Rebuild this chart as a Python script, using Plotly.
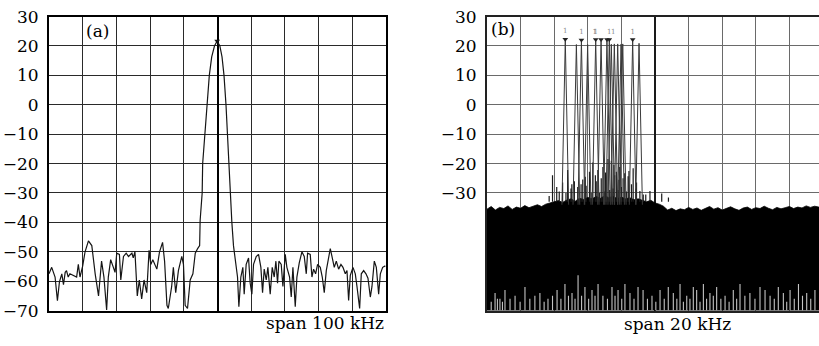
import plotly.graph_objects as go

# ---------------- Panel (a): span 100 kHz ----------------
freq_a = [-50.0, -49.2, -48.2, -47.5, -46.9, -46.2, -45.7, -45.2, -44.8, -44.3,
          -43.8, -42.8, -41.8, -41.3, -40.8, -40.0, -39.3, -38.3, -37.3, -36.3,
          -35.3, -34.9, -34.4, -33.7, -32.9, -32.4, -31.7, -30.9, -30.4, -29.9,
          -29.1, -28.7, -27.9, -27.1, -26.4, -25.4, -25.0, -24.5, -23.8, -23.2,
          -22.5, -21.8, -21.0, -20.3, -19.8, -19.2, -18.5, -18.0, -17.2, -16.3,
          -15.7, -15.0, -14.6, -13.6, -13.1, -12.4, -11.6, -10.6, -10.1, -9.6,
          -8.9, -8.1, -7.3, -6.6, -5.9, -5.3,
          -5.15, -4.55, -4.4, -3.8, -3.2, -2.43, -1.72, -0.9, -0.1, 0.7,
          1.34, 1.93, 2.52, 2.9, 3.37, 3.76, 4.26, 4.75, 5.54,
          5.94, 6.34, 6.93, 7.52, 7.92, 8.51, 9.21, 9.70, 10.20, 10.69,
          11.49, 12.18, 12.87, 13.37, 13.86, 14.46, 14.95, 15.64, 16.24, 16.83,
          17.33, 17.82, 18.22, 18.91, 19.41, 20.10, 20.59, 21.39, 21.88, 22.38,
          23.07, 23.56, 24.26, 25.05, 25.74, 26.34, 26.73, 27.52, 28.02, 28.51,
          29.11, 29.70, 30.50, 31.09, 31.68, 32.28, 32.97, 33.47, 34.06, 34.65,
          35.25, 35.94, 36.63, 37.23, 37.92, 38.42, 38.91, 39.41, 40.20, 40.89,
          41.39, 42.18, 42.67, 43.37, 44.06, 44.65, 45.35, 45.84, 46.53, 47.13,
          47.82, 48.32, 49.01, 49.80]
level_a = [-57.5, -55.3, -58.6, -66.6, -60.2, -57.5, -61.2, -57.0, -56.4, -58.6,
           -57.5, -58.0, -58.6, -54.3, -58.6, -54.8, -50.0, -46.3, -47.9, -57.5,
           -65.0, -59.6, -53.2, -58.6, -69.8, -58.6, -52.7, -55.3, -57.0, -50.5,
           -50.9, -59.6, -51.6, -50.5, -51.6, -50.5, -52.1, -50.0, -65.0, -59.6,
           -66.0, -59.6, -63.9, -49.5, -54.3, -52.7, -54.3, -55.9, -50.0, -46.8,
           -53.2, -68.2, -69.3, -61.8, -55.3, -63.9, -56.4, -51.6, -54.3, -68.2,
           -69.3, -59.6, -57.5, -50.5, -48.9, -47.9,
           -39.3, -30.0, -20.0, -10.0, 0.0, 10.0, 16.3, 20.0, 21.7, 20.0,
           16.3, 10.0, 0.0, -10.0, -20.0, -30.0, -40.0, -48.0, -54.3,
           -58.6, -68.7, -58.6, -55.3, -64.4, -54.3, -52.1, -60.7, -64.4, -54.3,
           -51.6, -50.9, -55.3, -63.9, -55.9, -59.6, -55.3, -64.4, -55.3, -58.6,
           -53.2, -60.7, -53.2, -54.3, -61.8, -50.9, -55.3, -58.6, -65.4, -55.3,
           -68.7, -58.6, -53.8, -50.0, -51.6, -57.5, -50.5, -50.9, -58.6, -55.9,
           -57.5, -54.3, -55.3, -58.6, -63.9, -56.4, -51.6, -48.9, -52.1, -55.3,
           -53.2, -55.9, -54.3, -55.3, -57.5, -56.4, -66.6, -58.0, -55.3, -57.5,
           -61.8, -69.3, -57.5, -56.4, -57.5, -59.0, -65.4, -61.8, -53.2, -55.3,
           -64.4, -57.5, -55.3, -54.8]
marker_a_freq = [-0.1]
marker_a_level = [21.7]

# ---------------- Panel (b): span 20 kHz ----------------
peak_freqs = [-5.34, -4.68, -4.38, -4.01, -3.53, -3.21, -2.86, -2.72, -2.60,
              -2.42, -2.22, -2.02, -1.92, -1.33, -0.95]
peak_levels = [21.9, 20.5, 21.6, 20.5, 21.8, 21.8, 21.8, 21.8, 20.6,
               20.7, 20.7, 20.6, 20.7, 21.8, 20.9]
peak_marked = [True, False, True, False, True, True, True, True, False,
               False, False, False, False, True, False]
peak_label = "1"
peak_halfwidth = 0.2
peak_floor = -34.0

# dense noise floor: upper envelope (0.25 kHz steps), bottom at -70 dB
noise_top_freq = [-10.0, -9.75, -9.5, -9.25, -9.0, -8.75, -8.5, -8.25, -8.0, -7.75,
                  -7.5, -7.25, -7.0, -6.75, -6.5, -6.25, -6.0, -5.75, -5.5, -5.25,
                  -5.0, -4.75, -4.5, -4.25, -4.0, -3.75, -3.5, -3.25, -3.0, -2.75,
                  -2.5, -2.25, -2.0, -1.75, -1.5, -1.25, -1.0, -0.75, -0.5, -0.25,
                  0.0, 0.25, 0.5, 0.75, 1.0, 1.25, 1.5, 1.75, 2.0, 2.25,
                  2.5, 2.75, 3.0, 3.25, 3.5, 3.75, 4.0, 4.25, 4.5, 4.75,
                  5.0, 5.25, 5.5, 5.75, 6.0, 6.25, 6.5, 6.75, 7.0, 7.25,
                  7.5, 7.75, 8.0, 8.25, 8.5, 8.75, 9.0, 9.25, 9.5, 9.75, 10.0]
noise_top_level = [-35.5, -34.6, -35.8, -34.9, -35.3, -34.4, -35.6, -34.8, -35.2, -34.3,
                   -35.0, -34.5, -34.0, -34.6, -33.8, -33.4, -33.0, -32.6, -33.2, -32.4,
                   -32.0, -32.8, -31.8, -32.2, -31.5, -32.0, -31.2, -31.8, -31.0, -31.6,
                   -31.2, -31.9, -31.4, -32.0, -31.6, -32.3, -32.0, -32.6, -33.0, -32.5,
                   -33.4, -33.8, -34.5, -35.8, -35.2, -36.0, -35.4, -35.7, -34.9, -35.6,
                   -35.1, -35.9, -35.3, -34.6, -35.5, -35.0, -35.8, -35.2, -34.7, -35.4,
                   -35.9, -35.1, -34.8, -35.6, -35.0, -35.3, -34.5, -35.2, -35.7, -34.9,
                   -35.4, -35.0, -34.6, -35.3, -34.8, -35.1, -34.4, -34.9, -34.5, -34.8, -34.3]
noise_floor_bottom = -70

# spikes rising above the dense floor around the tones
spike_freq = [-6.3, -6.1, -5.85, -5.7, -5.5, -5.3, -5.2, -5.0, -4.95, -4.8,
              -4.6, -4.4, -4.3, -4.15, -4.1, -3.9, -3.8, -3.7, -3.55, -3.5,
              -3.4, -3.3, -3.2, -3.1, -3.0, -2.95, -2.9, -2.8, -2.7, -2.6,
              -2.5, -2.45, -2.4, -2.3, -2.2, -2.15, -2.1, -2.0, -1.9, -1.8,
              -1.7, -1.6, -1.55, -1.4, -1.3, -1.15, -1.1, -0.9, -0.7, -0.55,
              -0.3, 0.4, 0.8]
spike_level = [-31.0, -24.0, -28.0, -29.5, -26.4, -30.0, -22.2, -28.5, -27.0, -26.0,
               -28.0, -27.0, -25.4, -24.5, -27.5, -22.8, -30.0, -19.6, -24.0, -26.0,
               -22.2, -30.0, -25.0, -21.2, -29.5, -23.0, -24.5, -18.4, -29.0, -19.0,
               -28.5, -20.5, -24.0, -22.8, -29.0, -25.5, -21.2, -28.0, -25.0, -23.3,
               -29.5, -24.3, -22.5, -27.0, -21.6, -28.5, -26.4, -29.3, -30.5, -30.5,
               -29.3, -30.2, -31.5]
spike_base = -33.0

# light gaps where the noise does not reach the bottom of the screen
gap_freq = [-9.75, -9.52, -9.38, -9.23, -9.08, -8.93, -8.63, -8.33, -8.03, -7.74,
            -7.45, -7.15, -6.85, -6.6, -6.37, -6.1, -5.83, -5.6, -5.36, -5.15,
            -4.94, -4.76, -4.58, -4.37, -4.17, -3.95, -3.75, -3.57, -3.39, -3.10,
            -2.83, -2.56, -2.38, -2.20, -1.98, -1.79, -1.49, -1.25, -1.01, -0.71,
            -0.45, -0.18, 0.05, 0.30, 0.55, 0.79, 1.09, 1.30, 1.49, 1.69,
            1.89, 2.08, 2.28, 2.48, 2.68, 2.88, 3.07, 3.27, 3.47, 3.67,
            3.92, 4.17, 4.41, 4.66, 4.86, 5.06, 5.35, 5.65, 5.95, 6.25,
            6.55, 6.85, 7.10, 7.34, 7.64, 7.84, 8.04, 8.29, 8.54, 8.78,
            9.03, 9.27, 9.52]
gap_level = [-67, -64, -66, -66, -67, -63, -66, -65, -67, -62,
             -66, -65, -64, -67, -66, -65, -63, -66, -61, -65,
             -64, -66, -58, -65, -62, -66, -63, -65, -61, -65,
             -66, -62, -65, -63, -66, -61, -64, -66, -62, -63,
             -66, -65, -67, -63, -66, -62, -64, -66, -61, -67,
             -65, -66, -62, -63, -67, -61, -66, -64, -65, -62,
             -66, -65, -67, -63, -66, -61, -65, -64, -66, -62,
             -63, -65, -66, -62, -64, -67, -63, -66, -61, -65,
             -64, -66, -63]

y_ticks = [-70, -60, -50, -40, -30, -20, -10, 0, 10, 20, 30]
y_text_a = ["\u221270", "\u221260", "\u221250", "\u221240", "\u221230", "\u221220",
            "\u221210", "0", "10", "20", "30"]
y_text_b = ["", "", "", "", "\u221230", "\u221220", "\u221210", "0", "10", "20", "30"]

W, H = 819, 346
FONT = "DejaVu Serif"

fig = go.Figure()

# panel (a)
fig.add_trace(go.Scatter(x=freq_a, y=level_a, mode="lines",
                         line=dict(color="#151515", width=1.2),
                         xaxis="x", yaxis="y", hoverinfo="skip"))
fig.add_trace(go.Scatter(x=marker_a_freq, y=marker_a_level, mode="markers",
                         marker=dict(symbol="triangle-down", size=5, color="#111"),
                         xaxis="x", yaxis="y", hoverinfo="skip"))

# panel (b) dense noise floor
poly_x = noise_top_freq + [noise_top_freq[-1], noise_top_freq[0]]
poly_y = noise_top_level + [noise_floor_bottom, noise_floor_bottom]
fig.add_trace(go.Scatter(x=poly_x, y=poly_y, mode="lines", fill="toself",
                         fillcolor="#000000", line=dict(color="#000000", width=0.8),
                         xaxis="x2", yaxis="y2", hoverinfo="skip"))

# spikes above floor
sx, sy = [], []
for f, lv in zip(spike_freq, spike_level):
    sx += [f, f, None]
    sy += [spike_base, lv, None]
fig.add_trace(go.Scatter(x=sx, y=sy, mode="lines", line=dict(color="#1a1a1a", width=1.2),
                         xaxis="x2", yaxis="y2", hoverinfo="skip"))

# light gaps at the bottom
gx, gy = [], []
for f, lv in zip(gap_freq, gap_level):
    gx += [f, f, None]
    gy += [noise_floor_bottom, lv, None]
fig.add_trace(go.Scatter(x=gx, y=gy, mode="lines", line=dict(color="#c4c4c4", width=1.1),
                         xaxis="x2", yaxis="y2", hoverinfo="skip"))

# tones
px, py = [], []
for f, lv in zip(peak_freqs, peak_levels):
    px += [f - peak_halfwidth, f, f + peak_halfwidth, None]
    py += [peak_floor, lv, peak_floor, None]
fig.add_trace(go.Scatter(x=px, y=py, mode="lines",
                         line=dict(color="#3a3a3a", width=1),
                         xaxis="x2", yaxis="y2", hoverinfo="skip"))
mk_f = [f for f, m in zip(peak_freqs, peak_marked) if m]
mk_l = [l for l, m in zip(peak_levels, peak_marked) if m]
positions = ["top center"] * len(mk_f)
positions[4] = "top right"
positions[3] = "top left"
fig.add_trace(go.Scatter(x=mk_f, y=[l + 0.4 for l in mk_l], mode="markers+text",
                         marker=dict(symbol="triangle-down", size=5, color="#222"),
                         text=[peak_label] * len(mk_f), textposition=positions,
                         textfont=dict(family=FONT, size=7, color="#8a8a8a"),
                         xaxis="x2", yaxis="y2", hoverinfo="skip"))

xa_dom = [49 / W, 386 / W]
xb_dom = [487 / W, 1.0]
y_dom = [(H - 319) / H, (H - 7) / H]
b_right = 10 - 4 / 16.8

fig.update_layout(
    width=W, height=H, margin=dict(l=0, r=0, t=0, b=0),
    paper_bgcolor="white", plot_bgcolor="white", showlegend=False,
    font=dict(family=FONT, size=17, color="#000"),
    xaxis=dict(domain=xa_dom, range=[-50, 50], dtick=10, tick0=0,
               showticklabels=False, showgrid=True, gridcolor="#2a2a2a", gridwidth=1.4,
               zeroline=True, zerolinecolor="#000", zerolinewidth=2,
               showline=True, mirror=True, linecolor="#000", linewidth=2,
               ticks="", fixedrange=True),
    yaxis=dict(domain=y_dom, range=[-70, 30], tickvals=y_ticks, ticktext=y_text_a,
               showgrid=True, gridcolor="#2a2a2a", gridwidth=1.4, zeroline=False,
               showline=True, mirror=True, linecolor="#000", linewidth=2,
               ticks="", ticklabelstandoff=5, ticklabeloverflow="allow",
               tickfont=dict(size=17, family=FONT, color="#000"), fixedrange=True),
    xaxis2=dict(domain=xb_dom, range=[-10, b_right], dtick=2, tick0=0,
                showticklabels=False, showgrid=True, gridcolor="#6a6a6a", gridwidth=1.1,
                zeroline=True, zerolinecolor="#1a1a1a", zerolinewidth=2,
                showline=True, mirror=True, linecolor="#222", linewidth=2,
                ticks="", anchor="y2", fixedrange=True),
    yaxis2=dict(domain=y_dom, range=[-70, 30], tickvals=y_ticks, ticktext=y_text_b,
                showgrid=True, gridcolor="#6a6a6a", gridwidth=1.1, zeroline=False,
                showline=True, mirror=False, linecolor="#222", linewidth=2,
                ticks="", ticklabelstandoff=5, ticklabeloverflow="allow",
                tickfont=dict(size=17, family=FONT, color="#000"),
                anchor="x2", fixedrange=True),
    annotations=[
        dict(text="(a)", x=84 / W, y=(H - 22) / H, xref="paper", yref="paper",
             xanchor="left", yanchor="middle", showarrow=False,
             font=dict(family=FONT, size=17, color="#000")),
        dict(text="(b)", x=489 / W, y=(H - 20) / H, xref="paper", yref="paper",
             xanchor="left", yanchor="middle", showarrow=False,
             font=dict(family=FONT, size=17, color="#000")),
        dict(text="span 100 kHz", x=386 / W, y=(H - 332) / H, xref="paper", yref="paper",
             xanchor="right", yanchor="middle", showarrow=False,
             font=dict(family=FONT, size=17, color="#000")),
        dict(text="span 20 kHz", x=677 / W, y=(H - 333) / H, xref="paper", yref="paper",
             xanchor="center", yanchor="middle", showarrow=False,
             font=dict(family=FONT, size=17, color="#000")),
    ],
)

fig.write_html("out.html", config={"displayModeBar": False},
               post_script="document.body.style.margin='0px';"
                           "document.body.style.overflow='hidden';")
